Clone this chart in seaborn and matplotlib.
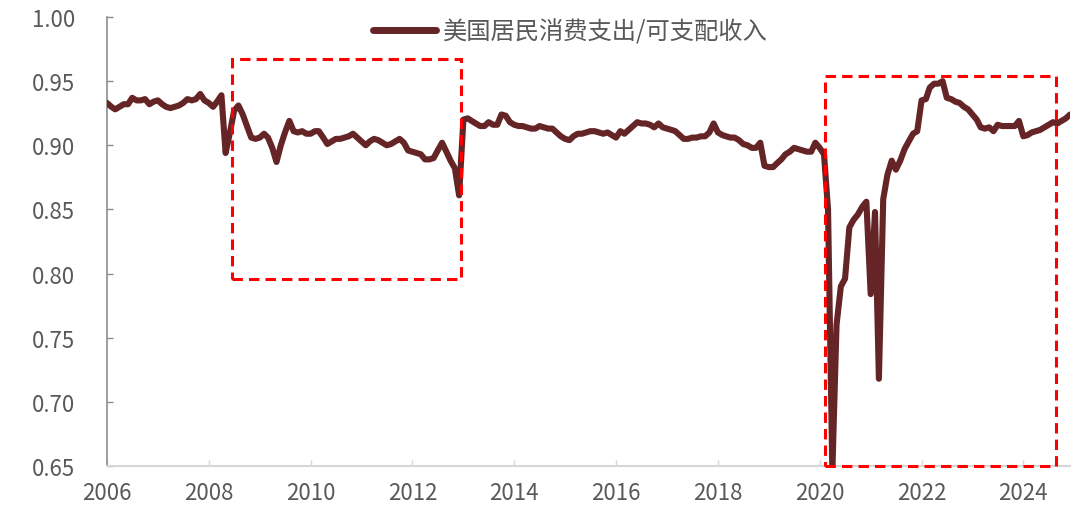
import matplotlib
matplotlib.use("Agg")
import matplotlib.pyplot as plt
import matplotlib.dates as mdates
from matplotlib.patches import Rectangle
import seaborn as sns
import pandas as pd
import numpy as np

# ---- data (monthly, Jan 2006 - Dec 2024) ----
series_name = "美国居民消费支出/可支配收入"
start_month = "2006-01-01"

ratio_2006_2009 = [
    0.933, 0.930, 0.928, 0.930, 0.932, 0.932, 0.937, 0.935, 0.935, 0.936, 0.932, 0.934,
    0.935, 0.932, 0.930, 0.929, 0.930, 0.931, 0.933, 0.936, 0.935, 0.936, 0.940, 0.935,
    0.933, 0.930, 0.934, 0.939, 0.894, 0.910, 0.927, 0.931, 0.924, 0.915, 0.906, 0.905,
    0.906, 0.909, 0.906, 0.898, 0.887, 0.900, 0.910, 0.919, 0.911, 0.910, 0.911, 0.909,
]
ratio_2010_2014 = [
    0.909, 0.911, 0.911, 0.906, 0.901, 0.903, 0.905, 0.905, 0.906, 0.907, 0.909, 0.906,
    0.903, 0.900, 0.903, 0.905, 0.904, 0.902, 0.900, 0.901, 0.903, 0.905, 0.902, 0.896,
    0.895, 0.894, 0.893, 0.889, 0.889, 0.890, 0.896, 0.902, 0.895, 0.888, 0.882, 0.861,
    0.920, 0.921, 0.919, 0.917, 0.915, 0.915, 0.918, 0.916, 0.916, 0.924, 0.923, 0.918,
    0.916, 0.915, 0.915, 0.914, 0.913, 0.913, 0.915, 0.914, 0.913, 0.913, 0.910, 0.907,
]
ratio_2015_2019 = [
    0.905, 0.904, 0.907, 0.909, 0.909, 0.910, 0.911, 0.911, 0.910, 0.909, 0.910, 0.908,
    0.906, 0.911, 0.909, 0.912, 0.915, 0.918, 0.917, 0.917, 0.916, 0.914, 0.917, 0.914,
    0.913, 0.912, 0.911, 0.908, 0.905, 0.905, 0.906, 0.906, 0.907, 0.907, 0.910, 0.917,
    0.910, 0.908, 0.907, 0.906, 0.906, 0.904, 0.901, 0.900, 0.898, 0.898, 0.902, 0.884,
    0.883, 0.883, 0.886, 0.889, 0.893, 0.895, 0.898, 0.897, 0.896, 0.895, 0.895, 0.902,
]
ratio_2020_2024 = [
    0.898, 0.893, 0.850, 0.646, 0.760, 0.790, 0.796, 0.836, 0.842, 0.846, 0.852, 0.856,
    0.784, 0.848, 0.718, 0.858, 0.877, 0.888, 0.881, 0.888, 0.897, 0.903, 0.909, 0.911,
    0.935, 0.936, 0.945, 0.948, 0.948, 0.950, 0.937, 0.936, 0.934, 0.933, 0.930, 0.928,
    0.924, 0.920, 0.914, 0.913, 0.914, 0.911, 0.916, 0.915, 0.915, 0.915, 0.915, 0.919,
    0.907, 0.908, 0.910, 0.911, 0.912, 0.914, 0.916, 0.918, 0.917, 0.919, 0.921, 0.924,
]

y_ticks = [0.65, 0.70, 0.75, 0.80, 0.85, 0.90, 0.95, 1.00]
y_tick_labels = ["0.65", "0.70", "0.75", "0.80", "0.85", "0.90", "0.95", "1.00"]

# highlighted periods (red dashed boxes): (start, end, low, high)
box_gfc = ("2008-06-15", "2012-12-15", 0.7955, 0.967)
box_covid = ("2020-02-08", "2024-08-22", 0.650, 0.9537)

# ---- build table ----
values = ratio_2006_2009 + ratio_2010_2014 + ratio_2015_2019 + ratio_2020_2024
dates = pd.date_range(start_month, periods=len(values), freq="MS")
df = pd.DataFrame({"date": dates, "ratio": values})

sns.set_theme(style="white")
plt.rcParams["font.family"] = ["Noto Sans CJK SC", "DejaVu Sans"]

line_color = "#652426"
text_color = "#595959"

fig = plt.figure(figsize=(10.8, 5.1), dpi=100)
ax = fig.add_axes([107 / 1080, 1 - 467 / 510, (1070 - 107) / 1080, (467 - 18) / 510])

line_ax = sns.lineplot(data=df, x="date", y="ratio", ax=ax, color=line_color,
                       linewidth=4.4, label=series_name, zorder=3)
for ln in ax.get_lines():
    ln.set_solid_joinstyle("round")
    ln.set_solid_capstyle("round")

for (s, e, lo, hi) in [box_gfc, box_covid]:
    x0 = mdates.date2num(pd.Timestamp(s))
    x1 = mdates.date2num(pd.Timestamp(e))
    ax.add_patch(Rectangle((x0, lo), x1 - x0, hi - lo, fill=False,
                           edgecolor="#ff0000", linewidth=2.2,
                           linestyle=(0, (3.4, 2.0)), zorder=4, clip_on=False))

ax.set_xlim(dates[0], dates[-1])
ax.set_ylim(0.65, 1.00)
ax.set_yticks(y_ticks)
ax.set_yticklabels(y_tick_labels)
ax.xaxis.set_major_locator(mdates.YearLocator(2))
ax.xaxis.set_major_formatter(mdates.DateFormatter("%Y"))
ax.set_xlabel("")
ax.set_ylabel("")

for side in ["top", "right"]:
    ax.spines[side].set_visible(False)
ax.spines["left"].set_color("#8c8c8c")
ax.spines["left"].set_linewidth(1.2)
ax.spines["bottom"].set_color("#d6d6d6")
ax.spines["bottom"].set_linewidth(1.5)

ax.tick_params(axis="y", direction="in", length=4, width=1.0, color="#8c8c8c",
               labelsize=16, labelcolor=text_color, pad=23, left=True)
ax.tick_params(axis="x", direction="in", length=4, width=1.0, color="#d6d6d6",
               labelsize=16, labelcolor=text_color, pad=11, bottom=True)

leg = ax.legend(loc="center", bbox_to_anchor=(0.481, 0.967), frameon=False,
                fontsize=17.5, handlelength=2.6, handletextpad=0.3)
for t in leg.get_texts():
    t.set_color(text_color)
for h in leg.get_lines():
    h.set_linewidth(5)
    h.set_solid_capstyle("round")

fig.savefig("out.png", dpi=100)
